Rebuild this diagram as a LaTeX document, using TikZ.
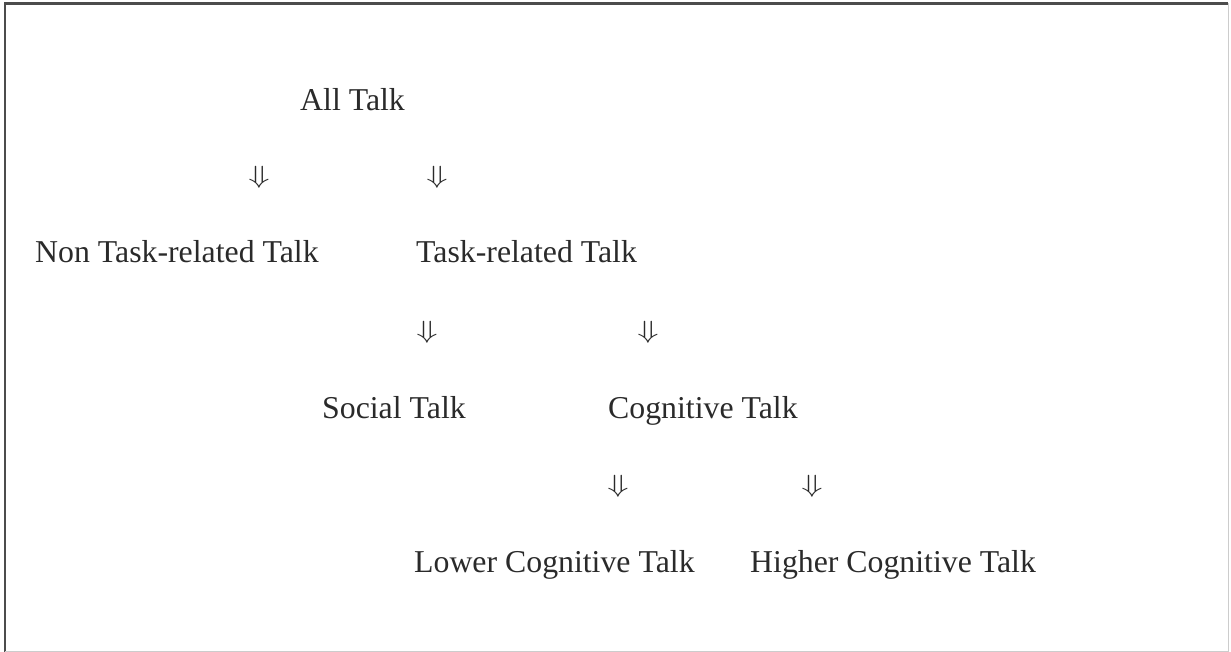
\documentclass[tikz,border=0pt]{standalone}
\usepackage{fontspec}
\usepackage{graphicx}
\setmainfont{Liberation Serif}
\definecolor{txt}{HTML}{2A2A2A}
\newcommand\dnarr{\scalebox{1.4}[1]{\fontsize{24}{24}\selectfont$\Downarrow$}}
\begin{document}
\begin{tikzpicture}[x=1pt,y=-1pt,
  lbl/.style={anchor=base west, inner sep=0pt, font=\fontsize{31.8}{36}\selectfont, text=txt},
  arr/.style={anchor=center, inner sep=0pt, text=txt}]
\useasboundingbox (0,0) rectangle (1231,652);
\draw[line width=2.5pt, draw=black!70] (5,652) -- (5,3.5) -- (1228,3.5);
\draw[line width=1pt, draw=black!20] (1228,3.5) -- (1228,651) -- (5,651);
% row 1
\node[lbl] (all) at (300,111) {All Talk};
\node[arr] (ar1) at (259,177) {\dnarr};
\node[arr] (ar2) at (437,177) {\dnarr};
% row 2
\node[lbl] (nontask) at (35,263) {Non Task-related Talk};
\node[lbl] (task) at (416,263) {Task-related Talk};
\node[arr] (ar3) at (427,332) {\dnarr};
\node[arr] (ar4) at (648,332) {\dnarr};
% row 3
\node[lbl] (social) at (322,418) {Social Talk};
\node[lbl] (cog) at (608,418) {Cognitive Talk};
\node[arr] (ar5) at (618,486) {\dnarr};
\node[arr] (ar6) at (812,486) {\dnarr};
% row 4
\node[lbl] (lower) at (414,572) {Lower Cognitive Talk};
\node[lbl] (higher) at (750,572) {Higher Cognitive Talk};
\end{tikzpicture}
\end{document}
